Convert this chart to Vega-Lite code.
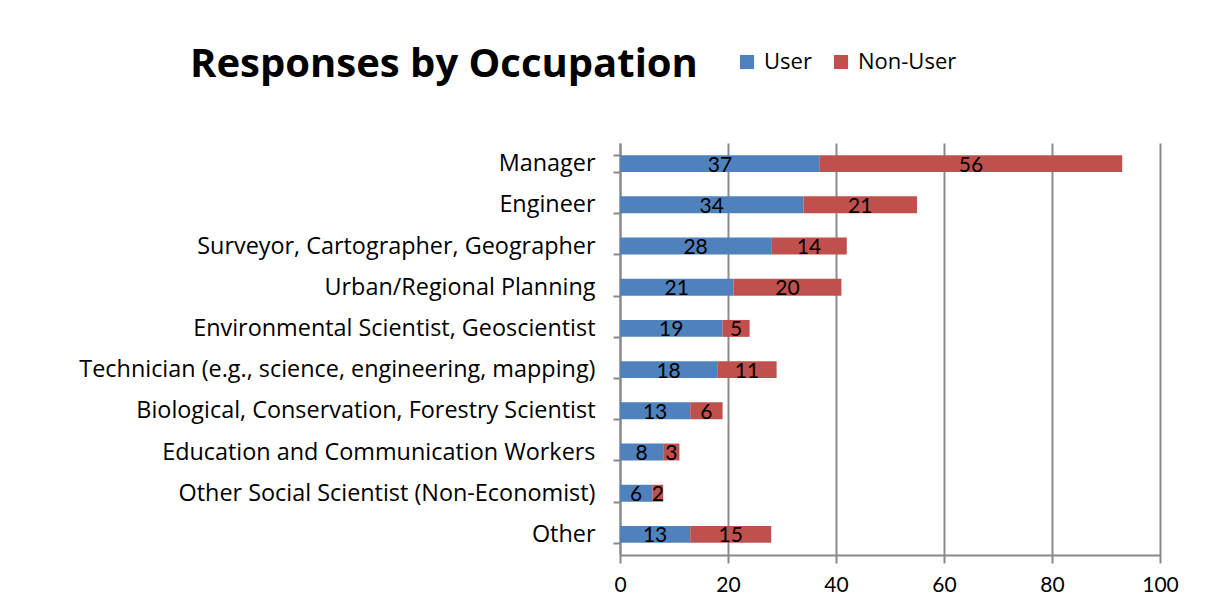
{
  "$schema": "https://vega.github.io/schema/vega-lite/v6.json",
  "autosize": {"type": "none"},
  "width": 540,
  "height": 412,
  "padding": {"left": 620, "top": 143, "right": 68, "bottom": 60},
  "background": "white",
  "title": {
    "text": "Responses by Occupation",
    "anchor": "start",
    "frame": "group",
    "dx": -430,
    "offset": -66,
    "baseline": "alphabetic",
    "fontSize": 40,
    "font": "Open Sans",
    "fontWeight": "bold",
    "color": "black"
  },
  "data": {
    "values": [
      {"occupation": "Manager", "series": "User", "value": 37},
      {"occupation": "Manager", "series": "Non-User", "value": 56},
      {"occupation": "Engineer", "series": "User", "value": 34},
      {"occupation": "Engineer", "series": "Non-User", "value": 21},
      {"occupation": "Surveyor, Cartographer, Geographer", "series": "User", "value": 28},
      {"occupation": "Surveyor, Cartographer, Geographer", "series": "Non-User", "value": 14},
      {"occupation": "Urban/Regional Planning", "series": "User", "value": 21},
      {"occupation": "Urban/Regional Planning", "series": "Non-User", "value": 20},
      {"occupation": "Environmental Scientist, Geoscientist", "series": "User", "value": 19},
      {"occupation": "Environmental Scientist, Geoscientist", "series": "Non-User", "value": 5},
      {"occupation": "Technician (e.g., science, engineering, mapping)", "series": "User", "value": 18},
      {"occupation": "Technician (e.g., science, engineering, mapping)", "series": "Non-User", "value": 11},
      {"occupation": "Biological, Conservation, Forestry Scientist", "series": "User", "value": 13},
      {"occupation": "Biological, Conservation, Forestry Scientist", "series": "Non-User", "value": 6},
      {"occupation": "Education and Communication Workers", "series": "User", "value": 8},
      {"occupation": "Education and Communication Workers", "series": "Non-User", "value": 3},
      {"occupation": "Other Social Scientist (Non-Economist)", "series": "User", "value": 6},
      {"occupation": "Other Social Scientist (Non-Economist)", "series": "Non-User", "value": 2},
      {"occupation": "Other", "series": "User", "value": 13},
      {"occupation": "Other", "series": "Non-User", "value": 15}
    ]
  },
  "encoding": {
    "y": {
      "field": "occupation",
      "type": "nominal",
      "sort": null,
      "title": null,
      "scale": {"paddingInner": 0.59, "paddingOuter": 0.295},
      "axis": {
        "labelFont": "Open Sans",
        "labelFontSize": 23.4,
        "labelColor": "black",
        "labelPadding": 18,
        "labelLimit": 700,
        "tickBand": "extent",
        "tickSize": 7,
        "tickColor": "#888888",
        "tickWidth": 2,
        "domainColor": "#888888",
        "domainWidth": 2,
        "grid": false
      }
    },
    "order": {"field": "series", "sort": "descending"}
  },
  "layer": [
    {
      "mark": {"type": "bar"},
      "encoding": {
        "x": {
          "field": "value",
          "type": "quantitative",
          "stack": "zero",
          "title": null,
          "scale": {"domain": [0, 100]},
          "axis": {
            "values": [0, 20, 40, 60, 80, 100],
            "labelFont": "Lato",
            "labelFontSize": 21,
            "labelColor": "black",
            "labelPadding": 11,
            "labelFlush": false,
            "tickSize": 8,
            "tickColor": "#888888",
            "tickWidth": 2,
            "domainColor": "#888888",
            "domainWidth": 2,
            "grid": true,
            "gridColor": "#8c8c8c",
            "gridWidth": 2
          }
        },
        "color": {
          "field": "series",
          "type": "nominal",
          "scale": {"domain": ["User", "Non-User"], "range": ["#4F81BD", "#C0504D"]},
          "legend": {
            "title": null,
            "orient": "none",
            "legendX": 116,
            "legendY": -92,
            "direction": "horizontal",
            "symbolType": "square",
            "symbolSize": 200,
            "symbolStrokeWidth": 0,
            "labelFont": "Open Sans",
            "labelFontSize": 22,
            "labelColor": "black",
            "columnPadding": 18,
            "labelOffset": 6
          }
        }
      }
    },
    {
      "mark": {"type": "text", "font": "Lato", "fontSize": 21, "color": "black", "baseline": "middle", "dy": 2},
      "encoding": {
        "x": {"field": "value", "type": "quantitative", "stack": "zero", "bandPosition": 0.5},
        "text": {"field": "value", "type": "quantitative"}
      }
    }
  ],
  "config": {
    "view": {"stroke": null}
  }
}
